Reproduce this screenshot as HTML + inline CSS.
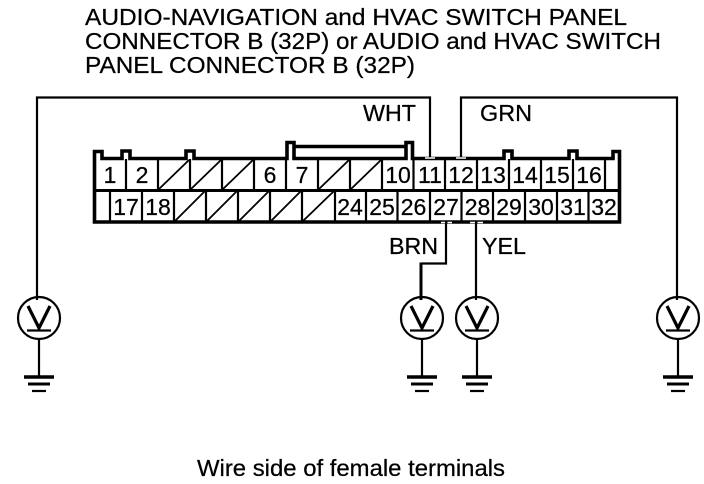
<!DOCTYPE html>
<html><head><meta charset="utf-8"><style>html,body{margin:0;padding:0;background:#fff}svg{display:block}text{font-family:"Liberation Sans",sans-serif;fill:#000;stroke:#000;stroke-width:.25}</style></head><body>
<svg width="704" height="484" viewBox="0 0 704 484" xmlns="http://www.w3.org/2000/svg">
<defs>
<g id="m" fill="none" stroke="#000">
<circle cx="0" cy="0" r="21" stroke-width="2.2"/>
<path d="M-11,-12 L0,10 L11,-12" stroke-width="3.2"/>
<path d="M-12,12.5 H12" stroke-width="2.2"/>
<path d="M0,21 V58" stroke-width="2.2"/>
<path d="M-15,59 H15" stroke-width="3.5"/>
<path d="M-11,66 H11" stroke-width="3"/>
<path d="M-7,73 H7" stroke-width="2.2"/>
</g>
</defs>
<g font-size="23">
<text x="85" y="25" textLength="542" lengthAdjust="spacingAndGlyphs">AUDIO-NAVIGATION and HVAC SWITCH PANEL</text>
<text x="85" y="49" textLength="576" lengthAdjust="spacingAndGlyphs">CONNECTOR B (32P) or AUDIO and HVAC SWITCH</text>
<text x="85" y="73" textLength="330" lengthAdjust="spacingAndGlyphs">PANEL CONNECTOR B (32P)</text>
<text x="197" y="476" textLength="308" lengthAdjust="spacingAndGlyphs">Wire side of female terminals</text>
<text x="363" y="121" textLength="53" lengthAdjust="spacingAndGlyphs">WHT</text>
<text x="480" y="121" textLength="52" lengthAdjust="spacingAndGlyphs">GRN</text>
<text x="389" y="254" textLength="49" lengthAdjust="spacingAndGlyphs">BRN</text>
<text x="482" y="254" textLength="44" lengthAdjust="spacingAndGlyphs">YEL</text>
</g>
<g fill="none" stroke="#000" stroke-width="2.2">
<path d="M37,300 V97.5 H430 V158"/>
<path d="M677,300 V97.5 H461 V158"/>
<path d="M446,222 V263.5 H421.5"/>
<path d="M476,222 V300"/>
</g>
<path d="M421,262.5 V300" stroke="#000" stroke-width="3" fill="none"/>
<use href="#m" x="39" y="318"/>
<use href="#m" x="422" y="318"/>
<use href="#m" x="477" y="318"/>
<use href="#m" x="678" y="318"/>
<g fill="none" stroke="#000" stroke-width="3.6">
<path d="M94.500,222 V151.500 H102 V158.500 H122 V151 H130 V158.500 H186 V151 H194 V158.500 H287 V142.500 H294 V158.500 H406 V142.500 H412.500 V158.500 H504 V151 H512 V158.500 H569 V151 H577 V158.500 H613 V151.500 H619.500 V222 Z"/>
<path d="M294,146.500 H406"/>
<path d="M94,190.500 H619.500" stroke-width="3"/>
</g>
<path d="M425,158 H435 M456,158 H466 M441,222.500 H445 M447.500,222.500 H452 M470,222.500 H475 M477.500,222.500 H483" stroke="#fff" stroke-width="1.600" fill="none"/>
<path d="M126,159 V190 M158,159 V190 M190,159 V190 M222,159 V190 M254,159 V190 M286,159 V190 M318,159 V190 M350,159 V190 M382,159 V190 M413.500,159 V190 M445,159 V190 M477,159 V190 M509,159 V190 M541,159 V190 M573,159 V190 M605,159 V190 M110,190 V222 M142,190 V222 M174,190 V222 M206,190 V222 M238,190 V222 M270,190 V222 M302,190 V222 M335,190 V222 M366,190 V222 M397.500,190 V222 M430,190 V222 M461.500,190 V222 M493,190 V222 M525,190 V222 M557,190 V222 M588.500,190 V222" stroke="#000" stroke-width="2.2" fill="none"/>
<path d="M159,189 L189,160 M191,189 L221,160 M223,189 L253,160 M319,189 L349,160 M351,189 L381,160 M175,221 L205,191 M207,221 L237,191 M239,221 L269,191 M271,221 L301,191 M303,221 L334,191" stroke="#000" stroke-width="1.800" fill="none"/>
<g font-size="23" text-anchor="middle">
<text x="110" y="183">1</text><text x="142" y="183">2</text><text x="270" y="183">6</text><text x="302" y="183">7</text>
<text x="398" y="183">10</text><text x="430" y="183">11</text><text x="461" y="183">12</text><text x="493" y="183">13</text><text x="525" y="183">14</text><text x="557" y="183">15</text><text x="589" y="183">16</text>
<text x="126" y="215">17</text><text x="158" y="215">18</text><text x="350" y="215">24</text><text x="382" y="215">25</text><text x="413.500" y="215">26</text><text x="446" y="215">27</text><text x="477.500" y="215">28</text><text x="509" y="215">29</text><text x="541" y="215">30</text><text x="573" y="215">31</text><text x="604" y="215">32</text>
</g>
</svg>
</body></html>
